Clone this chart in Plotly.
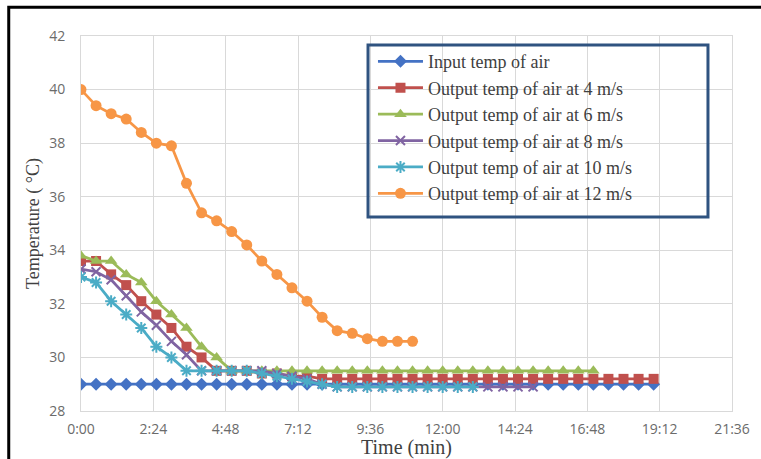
import plotly.graph_objects as go

# Sample times (minutes), one reading every half minute
time_min = [0.0, 0.5, 1.0, 1.5, 2.0, 2.5, 3.0, 3.5, 4.0, 4.5,
            5.0, 5.5, 6.0, 6.5, 7.0, 7.5, 8.0, 8.5, 9.0, 9.5,
            10.0, 10.5, 11.0, 11.5, 12.0, 12.5, 13.0, 13.5, 14.0, 14.5,
            15.0, 15.5, 16.0, 16.5, 17.0, 17.5, 18.0, 18.5, 19.0]

input_air = [29.0, 29.0, 29.0, 29.0, 29.0, 29.0, 29.0, 29.0, 29.0, 29.0,
             29.0, 29.0, 29.0, 29.0, 29.0, 29.0, 29.0, 29.0, 29.0, 29.0,
             29.0, 29.0, 29.0, 29.0, 29.0, 29.0, 29.0, 29.0, 29.0, 29.0,
             29.0, 29.0, 29.0, 29.0, 29.0, 29.0, 29.0, 29.0, 29.0]

out_4ms = [33.6, 33.6, 33.1, 32.7, 32.1, 31.6, 31.1, 30.4, 30.0, 29.5,
           29.5, 29.5, 29.4, 29.4, 29.3, 29.3, 29.2, 29.2, 29.2, 29.2,
           29.2, 29.2, 29.2, 29.2, 29.2, 29.2, 29.2, 29.2, 29.2, 29.2,
           29.2, 29.2, 29.2, 29.2, 29.2, 29.2, 29.2, 29.2, 29.2]

out_6ms = [33.8, 33.6, 33.6, 33.1, 32.8, 32.1, 31.6, 31.1, 30.4, 30.0,
           29.5, 29.5, 29.5, 29.5, 29.5, 29.5, 29.5, 29.5, 29.5, 29.5,
           29.5, 29.5, 29.5, 29.5, 29.5, 29.5, 29.5, 29.5, 29.5, 29.5,
           29.5, 29.5, 29.5, 29.5, 29.5]

out_8ms = [33.3, 33.2, 32.9, 32.3, 31.7, 31.2, 30.6, 30.1, 29.5, 29.5,
           29.5, 29.5, 29.5, 29.4, 29.3, 29.2, 29.0, 28.9, 28.9, 28.9,
           28.9, 28.9, 28.9, 28.9, 28.9, 28.9, 28.9, 28.9, 28.9, 28.9,
           28.9]

out_10ms = [33.0, 32.8, 32.1, 31.6, 31.1, 30.4, 30.0, 29.5, 29.5, 29.5,
            29.5, 29.5, 29.4, 29.3, 29.2, 29.1, 29.0, 28.9, 28.9, 28.9,
            28.9, 28.9, 28.9, 28.9, 28.9, 28.9, 28.9]

out_12ms = [40.0, 39.4, 39.1, 38.9, 38.4, 38.0, 37.9, 36.5, 35.4, 35.1,
            34.7, 34.2, 33.6, 33.1, 32.6, 32.1, 31.5, 31.0, 30.9, 30.7,
            30.6, 30.6, 30.6]

series_names = ["Input temp of air",
                "Output temp of air at 4 m/s",
                "Output temp of air at 6 m/s",
                "Output temp of air at 8 m/s",
                "Output temp of air at 10 m/s",
                "Output temp of air at 12 m/s"]

x_tick_vals = [0.0, 2.4, 4.8, 7.2, 9.6, 12.0, 14.4, 16.8, 19.2, 21.6]
x_tick_text = ["0:00", "2:24", "4:48", "7:12", "9:36", "12:00", "14:24", "16:48", "19:12", "21:36"]

series_values = [input_air, out_4ms, out_6ms, out_8ms, out_10ms, out_12ms]
styles = [
    dict(color="#4472C4", symbol="diamond", size=10),
    dict(color="#C0504D", symbol="square", size=10),
    dict(color="#9BBB59", symbol="triangle-up", size=11),
    dict(color="#8064A2", symbol="x-thin-open", size=9),
    dict(color="#4BACC6", symbol="asterisk-open", size=10),
    dict(color="#F79646", symbol="circle", size=11),
]

fig = go.Figure()
for name, vals, st in zip(series_names, series_values, styles):
    open_marker = st["symbol"].endswith("-open")
    fig.add_trace(go.Scatter(
        x=time_min[:len(vals)], y=vals, name=name, mode="lines+markers",
        line=dict(color=st["color"], width=2.75),
        marker=dict(symbol=st["symbol"], size=st["size"], color=st["color"],
                    line=dict(color=st["color"], width=2 if open_marker else 0)),
    ))

grid = "#D9D9D9"
tick_font = dict(family="Open Sans, DejaVu Sans, sans-serif", size=14, color="#6B6B6B")
serif = "Liberation Serif, Times New Roman, serif"

fig.update_layout(
    width=761, height=459,
    margin=dict(l=81, r=29, t=36, b=48, autoexpand=False),
    paper_bgcolor="white", plot_bgcolor="white",
    showlegend=True,
    legend=dict(
        x=0.4485, y=0.981, xanchor="left", yanchor="top",
        font=dict(family=serif, size=18, color="#404040"),
        itemwidth=45,
        bgcolor="rgba(0,0,0,0)", borderwidth=0,
    ),
    xaxis=dict(
        range=[0, 21.6], tickvals=x_tick_vals, ticktext=x_tick_text,
        showgrid=True, gridcolor=grid, gridwidth=1, zeroline=False,
        showline=True, linecolor=grid, linewidth=1, mirror=True,
        ticks="outside", ticklen=5, tickcolor="rgba(0,0,0,0)",
        tickfont=tick_font,
        title=dict(text="Time (min)", font=dict(family=serif, size=20, color="#404040"), standoff=2),
    ),
    yaxis=dict(
        range=[28, 42], dtick=2, tick0=28,
        showgrid=True, gridcolor=grid, gridwidth=1, zeroline=False,
        showline=True, linecolor=grid, linewidth=1, mirror=True,
        ticks="outside", ticklen=12, tickcolor="rgba(0,0,0,0)",
        tickfont=tick_font,
        title=dict(text="Temperature ( °C)", font=dict(family=serif, size=18, color="#404040"), standoff=4),
    ),
    shapes=[
        # legend frame
        dict(type="rect", xref="paper", yref="paper",
             x0=0.4409, x1=0.9631, y0=0.5173, y1=0.976,
             line=dict(color="#2F5380", width=3), fillcolor="rgba(0,0,0,0)", layer="above"),
        # outer frame of the figure
        dict(type="rect", xref="paper", yref="paper",
             x0=-0.111, x1=1.2, y0=-0.2, y1=1.077,
             line=dict(color="black", width=3), layer="above"),
    ],
)

fig.write_html("out.html")
